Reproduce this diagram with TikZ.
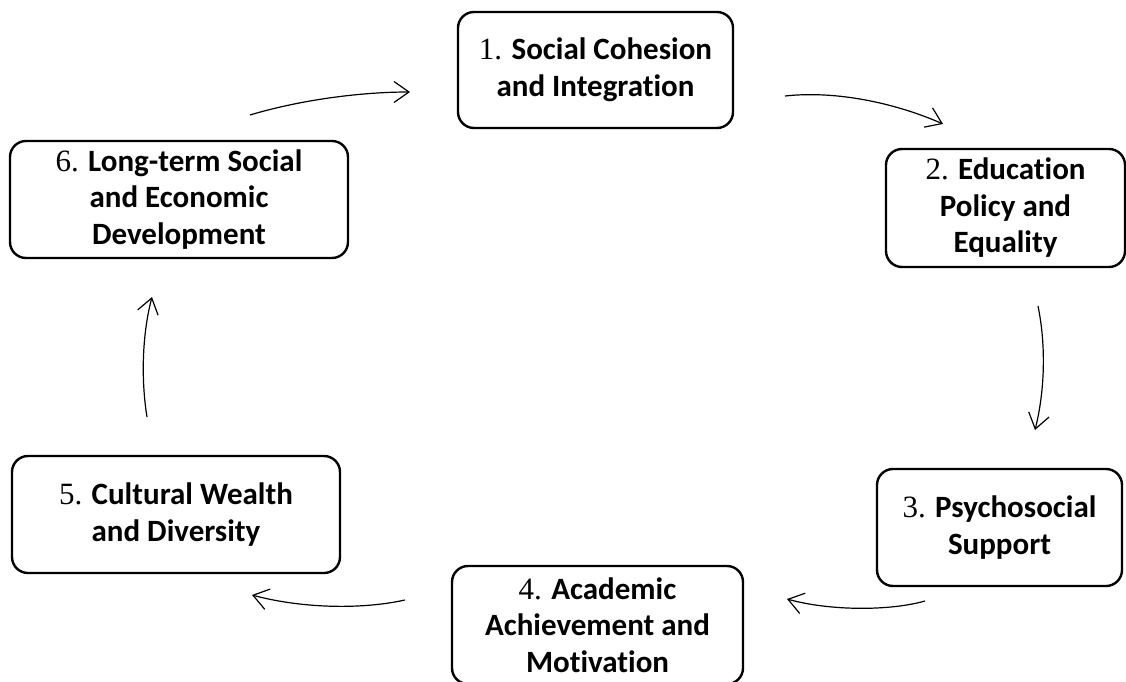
\documentclass[tikz,border=0pt]{standalone}
\usepackage{fontspec}
\setmainfont{Carlito}[Ligatures=NoCommon]
\newfontfamily\numfont{Liberation Serif}
\usetikzlibrary{arrows.meta}
\newcommand\stepnum[1]{{\numfont\mdseries #1}}
\begin{document}
\begin{tikzpicture}[x=1pt,y=-1pt,
  stage/.style={draw, line width=2.4pt, rounded corners=16pt, inner sep=0pt,
    align=center, font=\fontsize{31}{36.5}\selectfont\bfseries},
  flow/.style={line width=1.2pt,
    -{Straight Barb[length=15pt,width=21pt,line width=1.2pt]}}]
\fill[white] (0,0) rectangle (1126,682);
\useasboundingbox (0,0) rectangle (1126,682);

% the six stages of the cycle
\node[stage, minimum width=275pt, minimum height=116pt] (s1) at (595.5,70)
  {\stepnum{1.} Social Cohesion\\and Integration};
\node[stage, minimum width=239pt, minimum height=118pt] (s2) at (1005.5,208)
  {\stepnum{2.} Education\\Policy and\\Equality};
\node[stage, minimum width=245pt, minimum height=117pt] (s3) at (999.5,527.5)
  {\stepnum{3.} Psychosocial\\Support};
\node[stage, minimum width=291pt, minimum height=118pt] (s4) at (597.5,625)
  {\stepnum{4.} Academic\\Achievement and\\Motivation};
\node[stage, minimum width=328pt, minimum height=117pt] (s5) at (176,514.5)
  {\stepnum{5.} Cultural Wealth\\and Diversity};
\node[stage, minimum width=338pt, minimum height=117pt] (s6) at (179,199.5)
  {\stepnum{6.} Long-term Social\\and Economic\\Development};

% free ends of the curved connectors
\coordinate (a1s) at (250,115);  \coordinate (a1e) at (410,92);
\coordinate (a2s) at (785,96);   \coordinate (a2e) at (943,124);
\coordinate (a3s) at (1038,306); \coordinate (a3e) at (1035,430);
\coordinate (a4s) at (925,601);  \coordinate (a4e) at (787,599);
\coordinate (a5s) at (405,600);  \coordinate (a5e) at (252,595);
\coordinate (a6s) at (147,417);  \coordinate (a6e) at (152,297);

\draw[flow] (a1s) .. controls (300,100) and (360,92) .. (a1e);
\draw[flow] (a2s) .. controls (840,90) and (900,105) .. (a2e);
\draw[flow] (a3s) .. controls (1046,345) and (1045,390) .. (a3e);
\draw[flow] (a4s) .. controls (890,611) and (830,611) .. (a4e);
\draw[flow] (a5s) .. controls (360,610) and (300,608) .. (a5e);
\draw[flow] (a6s) .. controls (141,380) and (142,335) .. (a6e);
\end{tikzpicture}
\end{document}
